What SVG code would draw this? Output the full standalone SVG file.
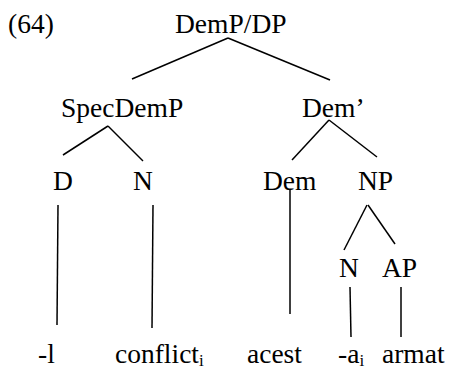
<svg xmlns="http://www.w3.org/2000/svg" width="450" height="371" viewBox="0 0 450 371">
<style>
.t{font-family:'Liberation Serif',Tinos,'Times New Roman',Times,serif;font-size:27.5px;fill:#000}
.sub{font-size:17px}
line{stroke:#000;stroke-width:1.5}
</style>
<rect width="450" height="371" fill="#fff"/>
<g class="t" font-family="Liberation Serif, Times New Roman, serif">
<text id="label" x="8" y="33">(64)</text>
</g>
<g id="connectors">
<line x1="228" y1="38" x2="132" y2="79"/>
<line x1="228" y1="38" x2="330" y2="80"/>
<line x1="108" y1="126" x2="63" y2="155"/>
<line x1="108" y1="126" x2="143" y2="161"/>
<line x1="329" y1="120" x2="292" y2="160"/>
<line x1="329" y1="120" x2="377" y2="157"/>
<line x1="58" y1="205" x2="57" y2="325"/>
<line x1="153" y1="205" x2="152" y2="328"/>
<line x1="290" y1="190" x2="290" y2="314"/>
<line x1="367" y1="205" x2="344" y2="250"/>
<line x1="368" y1="205" x2="395" y2="244"/>
<line x1="350" y1="287" x2="351" y2="337"/>
<line x1="401" y1="287" x2="401" y2="337"/>
</g>
<g class="t" font-family="Liberation Serif, Times New Roman, serif">
<g id="n-root"><text x="175" y="33">DemP/DP</text></g>
<g id="n-specdemp"><text x="61" y="117">SpecDemP</text></g>
<g id="n-dembar"><text x="302" y="117">Dem’</text></g>
<g id="n-d"><text x="53" y="190">D</text></g>
<g id="n-n1"><text x="133" y="190">N</text></g>
<g id="n-dem"><text x="263" y="190">Dem</text></g>
<g id="n-np"><text x="358" y="190">NP</text></g>
<g id="n-n2"><text x="339" y="277">N</text></g>
<g id="n-ap"><text x="382" y="277">AP</text></g>
<g id="w-l"><text x="38" y="363">-l</text></g>
<g id="w-conflict"><text x="115" y="363">conflict<tspan class="sub" dy="3">i</tspan></text></g>
<g id="w-acest"><text x="247" y="363">acest</text></g>
<g id="w-a"><text x="338" y="363">-a<tspan class="sub" dy="3">i</tspan></text></g>
<g id="w-armat"><text x="382" y="363">armat</text></g>
</g>
</svg>
